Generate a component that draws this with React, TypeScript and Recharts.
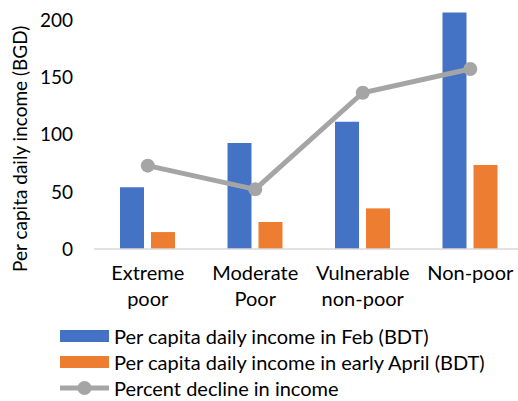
import { ComposedChart, Bar, Line, XAxis, YAxis } from "recharts";

// data
const categories = ["Extreme\npoor", "Moderate\nPoor", "Vulnerable\nnon-poor", "Non-poor"];
const febIncome = [54, 92.6, 111.2, 206.7];
const aprilIncome = [14.8, 23.6, 35.5, 73.4];
const percentDecline = [72.8, 52.1, 136.5, 157.2];
const yTicks = [0, 50, 100, 150, 200];

const seriesNames = [
  "Per capita daily income in Feb (BDT)",
  "Per capita daily income in early April (BDT)",
  "Percent decline in income",
];

const BLUE = "#4472c4";
const ORANGE = "#ed7d31";
const GRAY = "#a5a5a5";
const FONT = "Lato, 'Open Sans', sans-serif";

const chartData = categories.map((name, i) => ({
  name,
  feb: febIncome[i],
  april: aprilIncome[i],
  decline: percentDecline[i],
}));


function CategoryTick({ x, y, payload }: any) {
  const lines = String(payload.value).split("\n");
  return (
    <text x={x} y={y} textAnchor="middle" fill="#000" fontSize={20} fontFamily={FONT}>
      {lines.map((line, i) => (
        <tspan key={i} x={x} dy={i === 0 ? 23 : 26}>{line}</tspan>
      ))}
    </text>
  );
}


function LegendBox() {
  const row = { display: "flex", alignItems: "center", height: 26 };
  const label = { marginLeft: 5, fontSize: 20, fontFamily: FONT, color: "#000", lineHeight: "26px" };
  return (
    <div style={{ position: "absolute", left: 60, top: 323 }}>
      <div style={row}>
        <div style={{ width: 49, height: 12, background: BLUE }} />
        <span style={label}>{seriesNames[0]}</span>
      </div>
      <div style={row}>
        <div style={{ width: 49, height: 12, background: ORANGE }} />
        <span style={label}>{seriesNames[1]}</span>
      </div>
      <div style={row}>
        <svg width={49} height={16}>
          <line x1={0} y1={8} x2={49} y2={8} stroke={GRAY} strokeWidth={5} />
          <circle cx={24.5} cy={8} r={7} fill={GRAY} />
        </svg>
        <span style={label}>{seriesNames[2]}</span>
      </div>
    </div>
  );
}


export default function App() {
  return (
    <div style={{ position: "absolute", left: 0, top: 0, width: 518, height: 401, overflow: "hidden", background: "#fff" }}>
      <ComposedChart
        width={524}
        height={401}
        data={chartData}
        margin={{ top: 8.6, right: 0, left: 0, bottom: 0 }}
        barGap={7}
      >
        <XAxis
          dataKey="name"
          height={152}
          tickLine={false}
          axisLine={{ stroke: "#d9d9d9", strokeWidth: 1.5 }}
          interval={0}
          tick={<CategoryTick />}
        />
        <YAxis
          width={94}
          domain={[0, 210]}
          ticks={yTicks}
          tickLine={false}
          axisLine={false}
          tickMargin={15}
          tick={{ fill: "#000", fontSize: 19, fontFamily: FONT }}
          label={{
            value: "Per capita daily income (BGD)",
            angle: -90,
            position: "insideLeft",
            offset: 20,
            dy: 20,
            style: { textAnchor: "middle", fill: "#000", fontSize: 19, fontFamily: FONT },
          }}
        />
        <Bar dataKey="feb" fill={BLUE} barSize={24} isAnimationActive={false} />
        <Bar dataKey="april" fill={ORANGE} barSize={24} isAnimationActive={false} />
        <Line
          dataKey="decline"
          stroke={GRAY}
          strokeWidth={5}
          dot={{ r: 7, fill: GRAY, stroke: GRAY, strokeWidth: 0 }}
          isAnimationActive={false}
        />
      </ComposedChart>
      <LegendBox />
    </div>
  );
}
